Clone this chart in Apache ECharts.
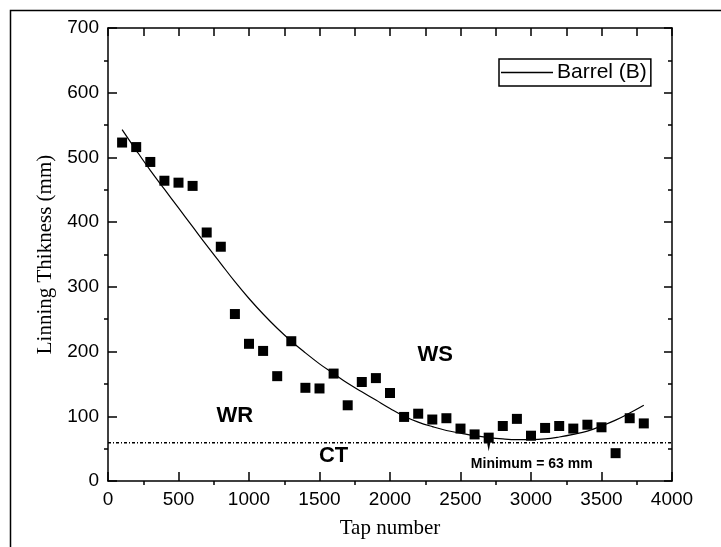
<!DOCTYPE html>
<html>
<head>
<meta charset="utf-8">
<script src="https://cdn.jsdelivr.net/npm/echarts@6/dist/echarts.min.js"></script>
<style>
html,body{margin:0;padding:0;background:#fff;}
#chart{width:721px;height:547px;}
</style>
</head>
<body>
<div id="chart"></div>
<script>
// Measured points (tap number, lining thickness in mm)
const tapNumbers = [100,200,300,400,500,600,700,800,900,1000,1100,1200,1300,1400,1500,1600,1700,1800,1900,2000,2100,2200,2300,2400,2500,2600,2700,2800,2900,3000,3100,3200,3300,3400,3500,3600,3700,3800];
const thickness = [523,516,493,464,461,456,384,362,258,212,201,162,216,144,143,166,117,153,159,136,99,104,95,97,81,72,67,85,96,70,82,85,81,87,83,43,97,89];

// Fitted curve "Barrel (B)"
const fitX = [100,200,300,400,500,600,700,800,900,1000,1100,1200,1300,1400,1500,1600,1700,1800,1900,2000,2100,2200,2300,2400,2500,2600,2700,2800,2900,3000,3100,3200,3300,3400,3500,3600,3700,3800];
const fitY = [543,511,480,451,422,393,364,336,308,282,258,236,216,198,181,166,151,138,125,112,100,91,84,78,74,70,67,65,64,64,65,68,72,77,85,94,105,117];

// Critical thickness level (dotted line)
const ctX = [0,4000];
const ctLevel = 59;

// Minimum pointer
const minPointer = [[2700,56]];

// Annotations
const bigLabels = [[2320,195,'WS'],[900,100,'WR'],[1600,38,'CT']];
const smallLabels = [[3005,26,'Minimum = 63 mm']];

const xTicks = {min:0, max:4000, interval:500};
const yTicks = {min:0, max:700, interval:100};

const chart = echarts.init(document.getElementById('chart'));
const black = '#000';
const lblColor = '#000';

const gridBox = {left:108, right:49, top:28, bottom:66, containLabel:false, outerBoundsMode:'none'};

const option = {
  backgroundColor:'#fff',
  animation:false,
  grid:[Object.assign({}, gridBox), Object.assign({}, gridBox)],
  graphic:[{
    type:'polyline', silent:true,
    shape:{points:[[10.5,547],[10.5,10.5],[721,10.5]]},
    style:{stroke:black, lineWidth:1.5, fill:null}
  }],
  legend:{
    data:[{name:'Barrel (B)', icon:'rect', itemStyle:{color:black, borderWidth:0}}],
    left:499, top:59,
    itemWidth:52, itemHeight:1.3, itemGap:4,
    padding:[3,4,3,2],
    borderColor:black, borderWidth:1.5, borderRadius:0,
    backgroundColor:'#fff',
    textStyle:{fontSize:21, color:lblColor, fontFamily:'Liberation Sans, Arial, sans-serif', padding:[0,0,0,-1], lineHeight:21}
  },
  xAxis:[
    {gridIndex:0, type:'value', position:'bottom', min:xTicks.min, max:xTicks.max, interval:xTicks.interval,
     name:'Tap number', nameLocation:'middle', nameGap:37,
     nameTextStyle:{fontSize:21, color:lblColor, fontFamily:'Liberation Serif, Times New Roman, serif'},
     axisLine:{show:true, onZero:false, lineStyle:{color:black, width:1.5}},
     axisTick:{show:true, inside:true, length:9, lineStyle:{color:black, width:1.5}},
     minorTick:{show:false},
     axisLabel:{fontSize:19, margin:9, color:lblColor, fontFamily:'Liberation Sans, Arial, sans-serif', formatter:v=>String(v)},
     splitLine:{show:false}},
    {gridIndex:0, type:'value', position:'top', min:xTicks.min, max:xTicks.max, interval:xTicks.interval,
     axisLine:{show:true, onZero:false, lineStyle:{color:black, width:1.5}},
     axisTick:{show:true, inside:true, length:8, lineStyle:{color:black, width:1.5}},
     minorTick:{show:true, splitNumber:2, length:8, lineStyle:{color:black, width:1.5}},
     axisLabel:{show:false}, splitLine:{show:false}},
    {gridIndex:1, type:'value', position:'bottom', min:xTicks.min, max:xTicks.max, interval:xTicks.interval,
     axisLine:{show:false, onZero:false},
     axisTick:{show:false, inside:false},
     minorTick:{show:true, splitNumber:2, length:4, lineStyle:{color:black, width:1.5}},
     axisLabel:{show:false}, splitLine:{show:false}, minorSplitLine:{show:false}}
  ],
  yAxis:[
    {gridIndex:0, type:'value', position:'left', min:yTicks.min, max:yTicks.max, interval:yTicks.interval,
     name:'Linning Thikness (mm)', nameLocation:'middle', nameGap:48, nameRotate:90,
     nameTextStyle:{fontSize:21, color:lblColor, fontFamily:'Liberation Serif, Times New Roman, serif'},
     axisLine:{show:true, onZero:false, lineStyle:{color:black, width:1.5}},
     axisTick:{show:true, inside:true, length:9, lineStyle:{color:black, width:1.5}},
     minorTick:{show:false},
     axisLabel:{fontSize:19, margin:9, color:lblColor, fontFamily:'Liberation Sans, Arial, sans-serif', formatter:v=>String(v)},
     splitLine:{show:false}},
    {gridIndex:0, type:'value', position:'right', min:yTicks.min, max:yTicks.max, interval:yTicks.interval,
     axisLine:{show:true, onZero:false, lineStyle:{color:black, width:1.5}},
     axisTick:{show:true, inside:true, length:8, lineStyle:{color:black, width:1.5}},
     minorTick:{show:true, splitNumber:2, length:4, lineStyle:{color:black, width:1.5}},
     axisLabel:{show:false}, splitLine:{show:false}},
    {gridIndex:1, type:'value', position:'left', min:yTicks.min, max:yTicks.max, interval:yTicks.interval,
     axisLine:{show:false, onZero:false},
     axisTick:{show:false, inside:false},
     minorTick:{show:true, splitNumber:2, length:4, lineStyle:{color:black, width:1.5}},
     axisLabel:{show:false}, splitLine:{show:false}, minorSplitLine:{show:false}}
  ],
  series:[
    {name:'Barrel (B)', type:'line', xAxisIndex:0, yAxisIndex:0, smooth:0.4, symbol:'none',
     lineStyle:{color:black, width:1.2}, itemStyle:{color:black},
     data: fitX.map((x,i)=>[x, fitY[i]]), z:3},
    {name:'data', type:'scatter', xAxisIndex:0, yAxisIndex:0, symbol:'rect', symbolSize:10,
     itemStyle:{color:black, opacity:1}, data: tapNumbers.map((x,i)=>[x, thickness[i]]), z:4},
    {name:'CT level', type:'line', xAxisIndex:0, yAxisIndex:0, symbol:'none',
     lineStyle:{color:black, width:1.5, type:[3,2,1,2]},
     data: ctX.map(x=>[x, ctLevel]), z:2},
    {name:'min', type:'scatter', xAxisIndex:0, yAxisIndex:0,
     symbol:'path://M0,0 L10,0 L5,24 Z', symbolSize:[5,13],
     itemStyle:{color:black, opacity:1}, data:minPointer, z:5},
    {name:'labels', type:'scatter', xAxisIndex:0, yAxisIndex:0, symbolSize:1,
     itemStyle:{color:'rgba(0,0,0,0)', opacity:1},
     label:{show:true, position:'inside', formatter:p=>p.data[2], fontSize:22, fontWeight:'bold',
            color:'#000', opacity:1, fontFamily:'Liberation Sans, Arial, sans-serif'},
     data:bigLabels, z:6},
    {name:'labels2', type:'scatter', xAxisIndex:0, yAxisIndex:0, symbolSize:1,
     itemStyle:{color:'rgba(0,0,0,0)', opacity:1},
     label:{show:true, position:'inside', formatter:p=>p.data[2], fontSize:14, fontWeight:'bold',
            color:'#000', opacity:1, fontFamily:'Liberation Sans, Arial, sans-serif'},
     data:smallLabels, z:6}
  ]
};
chart.setOption(option);
</script>
</body>
</html>
